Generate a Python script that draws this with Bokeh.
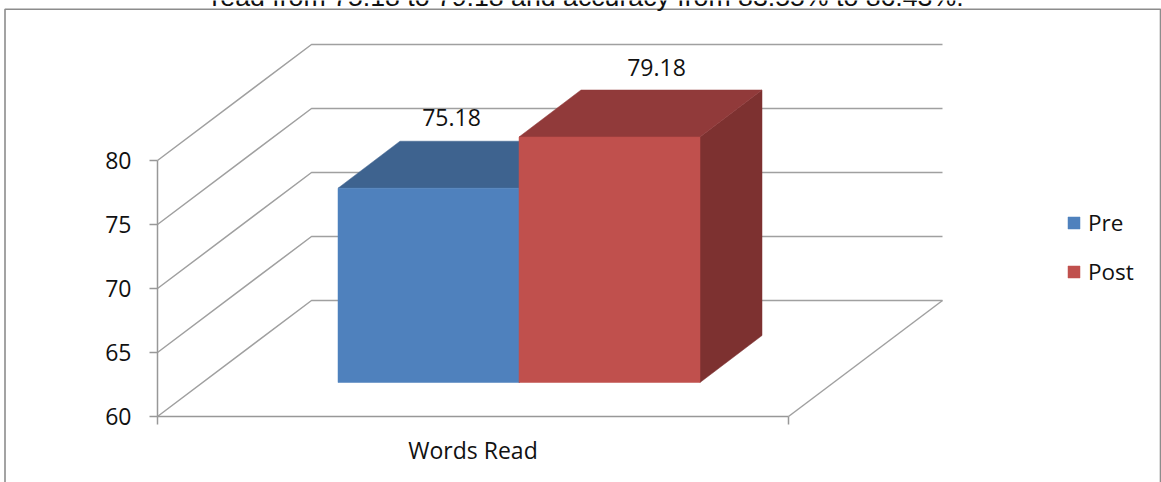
from bokeh.plotting import figure
from bokeh.models import LinearAxis, FixedTicker, Legend, LegendItem, Range1d
from bokeh.core.properties import value
from bokeh.embed import file_html
from bokeh.resources import INLINE

# --- data ---
series = ["Pre", "Post"]
values = [75.18, 79.18]
category = "Words Read"
y_ticks = [60, 65, 70, 75, 80]
caption = "read from 75.18 to 79.18 and accuracy from 83.55% to 86.43%."

# --- colours ---
front_colors = ["#4F81BD", "#C0504D"]
top_colors = ["#3E638F", "#913A3A"]
side_colors = ["#315078", "#7D3130"]
GRID = "#A0A0A0"
AXIS = "#989898"
FONT = "Open Sans"

# --- layout of the pseudo-3D projection (screen px) ---
W, H = 1161, 482
Y60, PX_PER_UNIT = 416.0, 12.8
X0, X1 = 157.0, 788.0          # front floor edge
DX, DY = 154.0, 116.0          # depth of the chart box
BAR_X0, BAR_W = 337.5, 181.0   # bars' front-left x and width
BAR_DEPTH_START = 34.0 / DY    # fraction of depth where the bars begin
BAR_DX, BAR_DY = 62.0, 47.0    # depth of the bars
LABEL_DX = [-3, 21]            # data-label nudges (px)
LABEL_DY = [-24, -22]


def vy(px):
    """screen y -> value units, used for things that aren't chart values"""
    return 60 + (Y60 - px) / PX_PER_UNIT


def depth_units(px):
    return px / PX_PER_UNIT


p = figure(width=W, height=H, output_backend="svg", toolbar_location=None,
           x_range=Range1d(0, W), y_range=Range1d(vy(H), vy(0)),
           min_border=0, outline_line_color=None, x_axis_type=None, y_axis_type=None)
p.xgrid.visible = False
p.ygrid.visible = False
p.background_fill_color = "white"

# outer chart frame
p.line([4.5, 4.5, 1160, 1160], [vy(H), vy(8.7), vy(8.7), vy(H)], line_color="#8C8C8C", line_width=1.6)

# clipped caption above the frame
p.text([587], [vy(-4)], text=[caption], text_font=value("Liberation Sans"), text_font_size="26.7px",
       text_align="center", text_baseline="middle", text_color="#111111")

# gridlines: wall + floor
for v in y_ticks:
    yb = v + depth_units(DY)
    p.line([X0, X0 + DX, X1 + DX], [v, yb, yb], line_color=GRID, line_width=1.5)
p.line([X1, X1 + DX], [60, 60 + depth_units(DY)], line_color=GRID, line_width=1.5)

# bars
base_x = BAR_X0
base = 60 + depth_units(DY * BAR_DEPTH_START)
d_u = depth_units(BAR_DY)
renderers = []
for i, (name, v) in enumerate(zip(series, values)):
    xl = base_x + i * BAR_W
    xr = xl + BAR_W
    top = base + (v - 60)
    p.patch([xr, xr + BAR_DX, xr + BAR_DX, xr], [base, base + d_u, top + d_u, top],
            fill_color=side_colors[i], line_color=side_colors[i], line_width=0.5)
    p.patch([xl, xr, xr + BAR_DX, xl + BAR_DX], [top, top, top + d_u, top + d_u],
            fill_color=top_colors[i], line_color=top_colors[i], line_width=0.5)
    r = p.quad(left=[xl], right=[xr], bottom=[base], top=[top],
               fill_color=front_colors[i], line_color=front_colors[i], line_width=0.5)
    renderers.append(r)
    p.text([xl + BAR_W / 2 + BAR_DX / 2 - 5 + LABEL_DX[i]], [top + d_u], text=[f"{v:.2f}"],
           y_offset=[LABEL_DY[i]], text_font=value(FONT), text_font_size="23px", text_align="center",
           text_baseline="middle", text_color="#111111")

# axes
ya = LinearAxis(fixed_location=X0, ticker=FixedTicker(ticks=y_ticks), bounds=(60, 80))
ya.axis_line_color = AXIS
ya.axis_line_width = 1.5
ya.major_tick_line_color = AXIS
ya.major_tick_line_width = 1.5
ya.major_tick_in = 0
ya.major_tick_out = 8
ya.minor_tick_line_color = None
ya.major_label_standoff = 18
ya.major_label_text_font = FONT
ya.major_label_text_font_size = "23px"
ya.major_label_text_color = "#111111"
p.add_layout(ya, "left")

xa = LinearAxis(fixed_location=60, ticker=FixedTicker(ticks=[X0, X1]), bounds=(X0, X1))
xa.axis_line_color = AXIS
xa.axis_line_width = 1.5
xa.major_tick_line_color = AXIS
xa.major_tick_line_width = 1.5
xa.major_tick_in = 0
xa.major_tick_out = 8
xa.minor_tick_line_color = None
xa.major_label_overrides = {X0: "", X1: ""}
p.add_layout(xa, "below")

p.text([(X0 + X1) / 2], [vy(449)], text=[category], text_font=value(FONT), text_font_size="23px",
       text_align="center", text_baseline="middle", text_color="#111111")

legend = Legend(items=[LegendItem(label=s, renderers=[r]) for s, r in zip(series, renderers)],
                location=(1066, H - 287), orientation="vertical", border_line_color=None,
                background_fill_alpha=0, padding=0, margin=0, spacing=18, glyph_width=15, glyph_height=15,
                label_standoff=7, label_text_font=FONT, label_text_font_size="22.5px",
                label_text_color="#111111", label_height=30)
p.add_layout(legend, "center")

open("out.html", "w").write(file_html(p, INLINE))
